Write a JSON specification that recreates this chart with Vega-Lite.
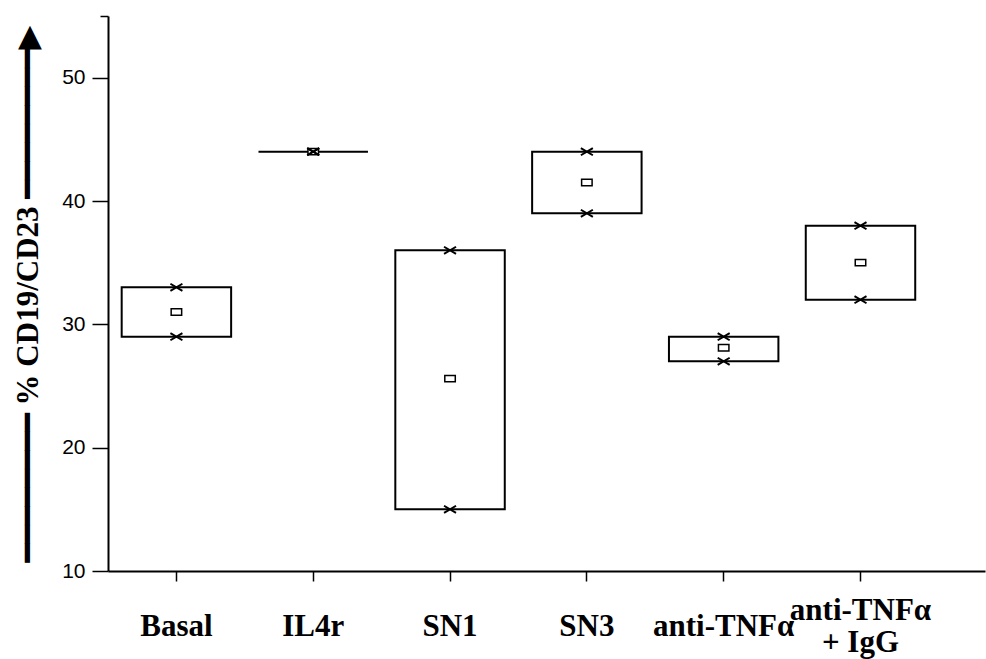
{
  "$schema": "https://vega.github.io/schema/vega-lite/v6.json",
  "width": 877,
  "height": 555,
  "autosize": {"type": "none"},
  "padding": {"left": 108, "top": 16, "right": 1, "bottom": 88},
  "background": "white",
  "config": {"view": {"stroke": null}},
  "data": {
    "values": [
      {"group": "Basal", "lo": 29, "hi": 33, "mean": 31},
      {"group": "IL4r", "lo": 44, "hi": 44, "mean": 44},
      {"group": "SN1", "lo": 15, "hi": 36, "mean": 25.6},
      {"group": "SN3", "lo": 39, "hi": 44, "mean": 41.5},
      {"group": "anti-TNFα", "lo": 27, "hi": 29, "mean": 28.1},
      {"group": "anti-TNFα + IgG", "lo": 32, "hi": 38, "mean": 35}
    ]
  },
  "encoding": {
    "x": {
      "field": "group",
      "type": "nominal",
      "sort": null,
      "scale": {"paddingInner": 0, "paddingOuter": 0.205, "align": 0},
      "axis": {
        "title": null,
        "labelExpr": "datum.value == 'anti-TNFα + IgG' ? ['anti-TNFα', '+ IgG'] : datum.label",
        "labelAngle": 0,
        "labelFont": "Liberation Serif",
        "labelFontSize": 31,
        "labelFontWeight": "bold",
        "labelColor": "black",
        "labelBaseline": "middle",
        "labelLineHeight": 32,
        "labelPadding": {"condition": {"test": "datum.value == 'anti-TNFα + IgG'", "value": 29}, "value": 45},
        "labelOverlap": false,
        "labelBound": false,
        "labelFlush": false,
        "tickSize": 10,
        "tickWidth": 1.5,
        "tickColor": "black",
        "domainColor": "black",
        "domainWidth": 2
      }
    }
  },
  "layer": [
    {
      "mark": {"type": "bar", "fill": "white", "stroke": "black", "strokeWidth": 2, "width": {"band": 0.8}},
      "encoding": {
        "y": {
          "field": "lo",
          "type": "quantitative",
          "title": "━━━━━━━━ % CD19/CD23 ━━━━━━━━▶",
          "scale": {"domain": [10, 55], "nice": false, "zero": false},
          "axis": {
            "values": [10, 20, 30, 40, 50, 55],
            "labelExpr": "datum.value == 55 ? '' : datum.label",
            "tickSize": {"condition": {"test": "datum.value == 55", "value": 8}, "value": 16},
            "labelFont": "Liberation Sans",
            "labelFontSize": 21,
            "labelColor": "black",
            "labelPadding": 7,
            "tickColor": "black",
            "tickWidth": 1.5,
            "domainColor": "black",
            "domainWidth": 2,
            "grid": false,
            "titleFont": "Liberation Serif, DejaVu Sans",
            "titleFontSize": 31,
            "titleFontWeight": "bold",
            "titleColor": "black",
            "titlePadding": 17
          }
        },
        "y2": {"field": "hi"}
      }
    },
    {
      "mark": {"type": "point", "shape": "M-1,-0.6H1V0.6H-1Z", "size": 110, "fill": "white", "stroke": "black", "strokeWidth": 1.5, "filled": true, "opacity": 1},
      "encoding": {
        "y": {"field": "mean", "type": "quantitative", "title": "━━━━━━━━ % CD19/CD23 ━━━━━━━━▶"}
      }
    },
    {
      "mark": {"type": "point", "shape": "M-1,-0.6L1,0.6M-1,0.6L1,-0.6", "size": 144, "stroke": "black", "strokeWidth": 2, "filled": false, "opacity": 1},
      "encoding": {
        "y": {"field": "hi", "type": "quantitative", "title": "━━━━━━━━ % CD19/CD23 ━━━━━━━━▶"}
      }
    },
    {
      "mark": {"type": "point", "shape": "M-1,-0.6L1,0.6M-1,0.6L1,-0.6", "size": 144, "stroke": "black", "strokeWidth": 2, "filled": false, "opacity": 1},
      "encoding": {
        "y": {"field": "lo", "type": "quantitative", "title": "━━━━━━━━ % CD19/CD23 ━━━━━━━━▶"}
      }
    }
  ]
}
